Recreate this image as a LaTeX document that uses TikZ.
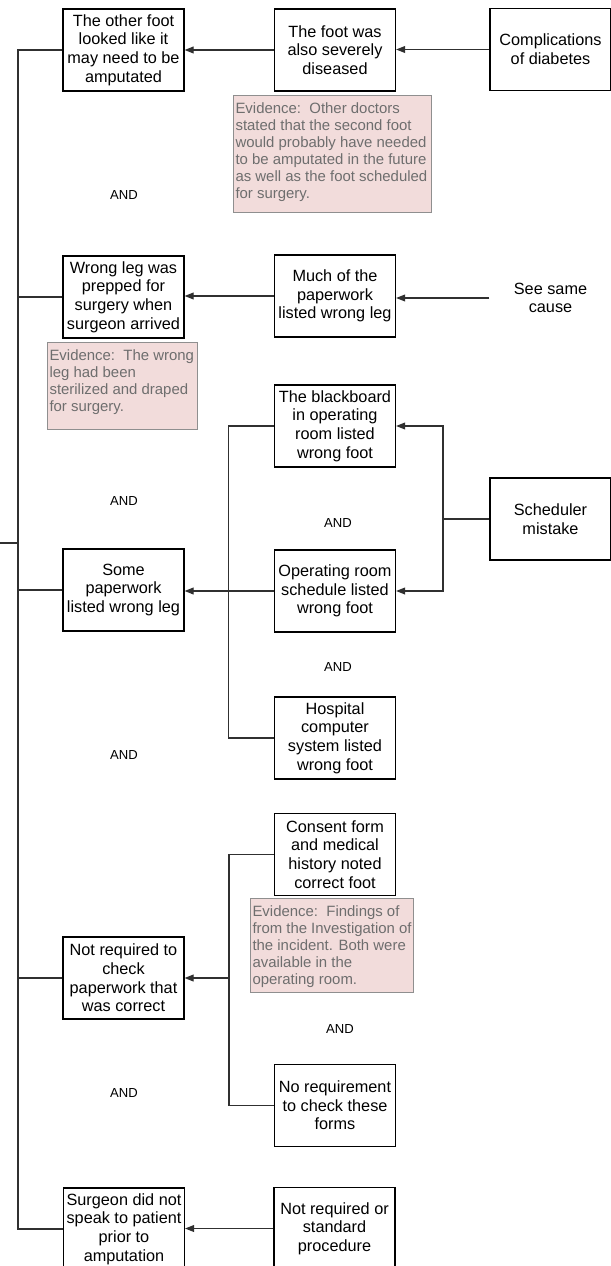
\documentclass[tikz,border=0pt]{standalone}
\usepackage{fontspec}
\setmainfont{Liberation Sans}
\usepackage{xcolor}
\usepackage{tikz}
\usetikzlibrary{arrows.meta}

\definecolor{evfill}{HTML}{F2DCDB}
\definecolor{evline}{HTML}{8F8F8F}
\definecolor{evtext}{HTML}{6E6E6E}
\definecolor{wire}{HTML}{303030}

\newcommand{\evnote}[3]{\begin{minipage}[t][#2][t]{#1}\raggedright\rule{0pt}{12pt}#3\end{minipage}}

\tikzset{
  cause/.style={draw=black,line width=0.9pt,minimum width=90.75pt,minimum height=61.5pt,
    inner sep=1pt,align=center,font=\fontsize{12.2}{14}\selectfont},
  nobox/.style={cause,draw=none},
  evid/.style={draw=evline,fill=evfill,text=evtext,line width=0.8pt,anchor=north west,
    inner sep=1.5pt,font=\fontsize{11.2}{12.75}\selectfont},
  andtxt/.style={inner sep=0pt,font=\fontsize{9.8}{11}\selectfont},
  link/.style={draw=wire,line width=0.8pt},
  arr/.style={link,->},
}

\begin{document}
\begin{tikzpicture}[x=0.75pt,y=-0.75pt]
\useasboundingbox (0,0) rectangle (610,1266);
\begin{scope}[>={Triangle[length=6.8pt,width=5.2pt]}]
    % left column
    \node[cause] (other)     at (123.5,50)   {The other foot\\looked like it\\may need to be\\amputated};
    \node[cause] (wrongleg)  at (123.5,297)  {Wrong leg was\\prepped for\\surgery when\\surgeon arrived};
    \node[cause] (somepaper) at (123.5,590)  {Some\\paperwork\\listed wrong leg};
    \node[cause] (notcheck)  at (123.5,978)  {Not required to\\check\\paperwork that\\was correct};
    \node[cause] (surgeon)   at (124,1229)   {Surgeon did not\\speak to patient\\prior to\\amputation};

    % middle column
    \node[cause] (diseased)   at (335,50)     {The foot was\\also severely\\diseased};
    \node[cause] (muchpaper)  at (335,296)    {Much of the\\paperwork\\listed wrong leg};
    \node[cause] (blackboard) at (335,426)    {The blackboard\\in operating\\room listed\\wrong foot};
    \node[cause] (orsched)    at (335,591)    {Operating room\\schedule listed\\wrong foot};
    \node[cause] (hospital)   at (335,738)    {Hospital\\computer\\system listed\\wrong foot};
    \node[cause] (consent)    at (335,854.5)  {Consent form\\and medical\\history noted\\correct foot};
    \node[cause] (norequire)  at (335,1105.5) {No requirement\\to check these\\forms};
    \node[cause] (standard)   at (334.5,1228.5) {Not required or\\standard\\procedure};

    % right column
    \node[cause] (diabetes)  at (550.5,49.5) {Complications\\of diabetes};
    \node[nobox] (samecause) at (550.5,298)  {See same\\cause};
    \node[cause] (scheduler) at (550.5,519)  {Scheduler\\mistake};

    % evidence notes
    \node[evid] (ev1) at (233,95)  {\evnote{145.5pt}{84.7pt}{Evidence:\ \ Other doctors\\stated that the second foot\\would probably have needed\\to be amputated in the future\\as well as the foot scheduled\\for surgery.}};
    \node[evid] (ev2) at (47,342)  {\evnote{109.5pt}{62.2pt}{Evidence:\ \ The wrong\\leg had been\\sterilized and draped\\for surgery.}};
    \node[evid] (ev3) at (250,898) {\evnote{119.2pt}{67.5pt}{Evidence:\ \ Findings of\\from the Investigation of\\the incident. Both were\\available in the\\operating room.}};

    % AND labels
    \node[andtxt] (and1) at (124,195)  {AND};
    \node[andtxt] (and2) at (124,501)  {AND};
    \node[andtxt] (and3) at (338,523)  {AND};
    \node[andtxt] (and4) at (338,667)  {AND};
    \node[andtxt] (and5) at (124,755)  {AND};
    \node[andtxt] (and6) at (340,1029) {AND};
    \node[andtxt] (and7) at (124,1093) {AND};

    % trunk on the left
    \coordinate (root)  at (0,543);
    \coordinate (trunk) at (18,543);
    \draw[link] (other.west) -| (trunk) |- (surgeon.west);
    \draw[link] (root) -- (trunk);
    \foreach \n in {wrongleg,somepaper,notcheck}
        \draw[link] (\n.west) -- (\n.west -| trunk);

    % arrows between columns
    \draw[arr] (diseased.west) -- (diseased.west -| other.east);
    \draw[arr] (diabetes.west) -- (diabetes.west -| diseased.east);
    \draw[arr] (samecause.west) -- (samecause.west -| muchpaper.east);
    \draw[arr] (muchpaper.west) -- (muchpaper.west -| wrongleg.east);
    \draw[arr] (orsched.west) -- (orsched.west -| somepaper.east);
    \draw[arr] (standard.west) -- (standard.west -| surgeon.east);

    % scheduler fork
    \coordinate (fork) at (443,519);
    \draw[link] (scheduler.west) -- (fork);
    \draw[arr] (fork) |- (blackboard.east);
    \draw[arr] (fork) |- (orsched.east);

    % brackets on the middle column
    \draw[link] (blackboard.west) -- ++(-45,0) |- (hospital.west);
    \coordinate (join) at (229,978);
    \draw[link] (consent.west) -| (join) |- (norequire.west);
    \draw[arr] (join) -- (notcheck.east);
\end{scope}
\end{tikzpicture}
\end{document}
